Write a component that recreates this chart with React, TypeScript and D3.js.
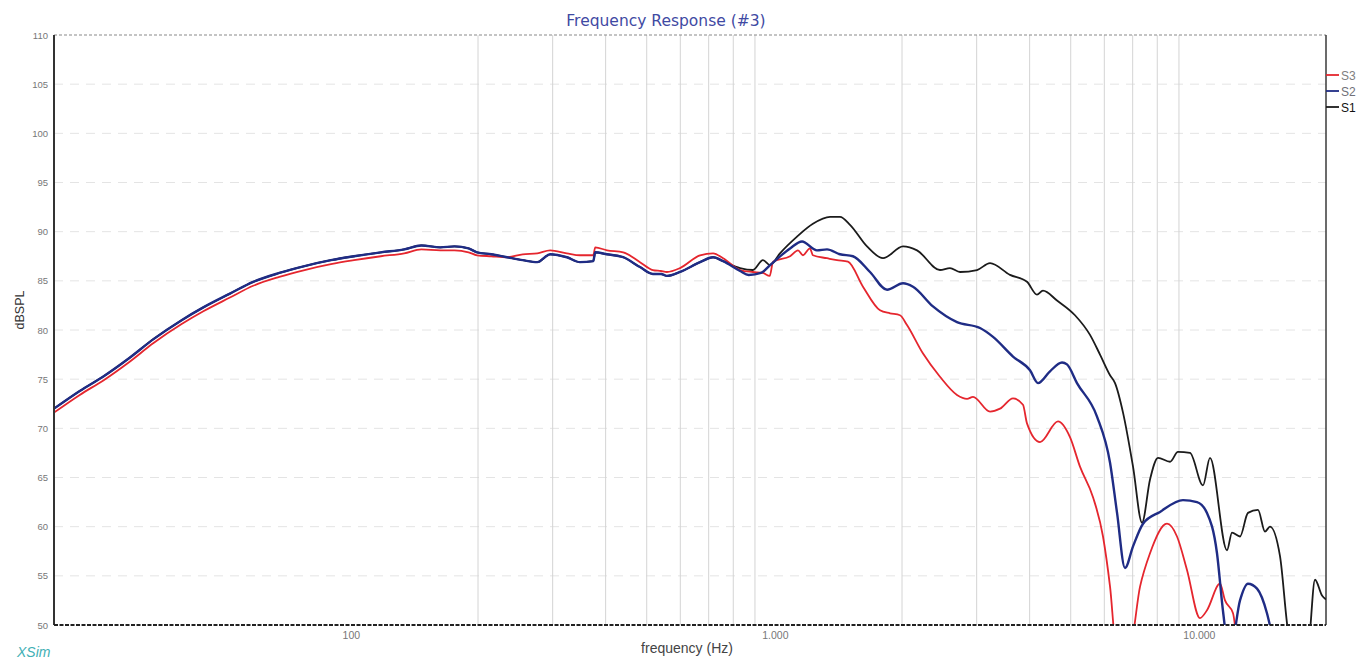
import React, { useEffect, useRef } from 'react';
import * as d3 from 'd3';

// Frequency response samples [Hz, dB]
const S1: [number, number][] = [
  [20, 72.0], [23, 73.8], [26.2, 75.3], [30, 77.1], [34.4, 79.1], [40, 81.0], [45, 82.3],
  [52, 83.7], [59, 84.9], [68, 85.8], [78, 86.5], [90, 87.1], [102, 87.5], [118, 87.9],
  [134, 88.2], [147, 88.6], [163, 88.4], [176, 88.5], [190, 88.3], [199, 87.9], [215, 87.7],
  [234, 87.4], [255, 87.1], [276, 86.9], [296, 87.7], [324, 87.4], [348, 86.9], [374, 87.0],
  [378, 87.9], [403, 87.7], [440, 87.4], [482, 86.4], [517, 85.7], [540, 85.7], [558, 85.5],
  [599, 85.9], [668, 86.9], [717, 87.4], [757, 87.0], [830, 86.3], [890, 86.1], [940, 87.1],
  [977, 86.6], [1031, 87.8], [1131, 89.5], [1233, 90.8], [1353, 91.5], [1428, 91.5],
  [1508, 90.7], [1654, 88.5], [1804, 87.3], [2011, 88.5], [2170, 88.1], [2458, 86.1],
  [2595, 86.3], [2741, 85.9], [3006, 86.1], [3226, 86.8], [3596, 85.6], [3943, 84.9],
  [4163, 83.6], [4300, 84.0], [4641, 83.0], [5117, 81.5], [5552, 79.5], [5862, 77.5],
  [6190, 75.4], [6360, 74.6], [6642, 71.6], [7013, 66.1], [7364, 60.4], [7691, 64.8],
  [8033, 67.0], [8573, 66.6], [8952, 67.6], [9554, 67.5], [10254, 64.2], [10652, 67.0],
  [11683, 57.6], [12004, 59.4], [12538, 59.0], [13092, 61.4], [13824, 61.7], [14359, 59.5],
  [14754, 60.0], [15579, 57.0], [16181, 50.2], [16500, 47.5], [18100, 47.5], [18842, 54.6],
  [19572, 53.0], [20000, 52.6],
];

const S2: [number, number][] = [
  [20, 72.0], [23, 73.8], [26.2, 75.3], [30, 77.1], [34.4, 79.1], [40, 81.0], [45, 82.3],
  [52, 83.7], [59, 84.9], [68, 85.8], [78, 86.5], [90, 87.1], [102, 87.5], [118, 87.9],
  [134, 88.2], [147, 88.6], [163, 88.4], [176, 88.5], [190, 88.3], [199, 87.9], [215, 87.7],
  [234, 87.4], [255, 87.1], [276, 86.9], [296, 87.7], [324, 87.4], [348, 86.9], [374, 87.0],
  [378, 87.9], [403, 87.7], [440, 87.4], [482, 86.4], [517, 85.7], [540, 85.7], [558, 85.5],
  [599, 85.9], [668, 86.9], [717, 87.4], [757, 87.0], [830, 86.0], [870, 85.6], [930, 85.8],
  [977, 86.6], [1089, 88.3], [1162, 89.0], [1260, 88.1], [1331, 88.2], [1428, 87.7],
  [1532, 87.5], [1681, 85.9], [1844, 84.1], [2011, 84.75], [2123, 84.4], [2366, 82.4],
  [2696, 80.8], [3055, 80.2], [3279, 79.3], [3655, 77.3], [4008, 75.9], [4186, 74.6],
  [4468, 75.8], [4769, 76.7], [4900, 76.5], [5173, 74.6], [5767, 71.2], [6190, 66.5],
  [6430, 61.4], [6714, 55.8], [7013, 58.0], [7405, 60.3], [8120, 61.5], [9198, 62.7],
  [9926, 62.5], [10479, 61.4], [11065, 57.3], [11433, 51.4], [11750, 48.0], [11950, 48.0],
  [12538, 52.5], [13092, 54.2], [13751, 53.7], [14515, 51.2], [15000, 48.5],
];

const S3: [number, number][] = [
  [20, 71.6], [23, 73.4], [26.2, 74.9], [30, 76.7], [34.4, 78.7], [40, 80.6], [45, 81.9],
  [52, 83.3], [59, 84.5], [68, 85.4], [78, 86.1], [90, 86.7], [102, 87.1], [118, 87.5],
  [134, 87.8], [147, 88.2], [163, 88.1], [176, 88.1], [190, 87.9], [199, 87.6], [215, 87.5],
  [234, 87.4], [255, 87.7], [276, 87.8], [296, 88.1], [324, 87.8], [348, 87.6], [374, 87.6],
  [378, 88.4], [403, 88.1], [440, 87.9], [482, 86.9], [517, 86.1], [540, 86.0], [558, 85.9],
  [599, 86.3], [668, 87.6], [717, 87.8], [757, 87.3], [830, 86.1], [890, 85.9], [940, 85.8],
  [975, 85.5], [993, 86.95], [1089, 87.5], [1137, 88.1], [1168, 87.6], [1213, 88.3],
  [1233, 87.6], [1331, 87.3], [1405, 87.1], [1491, 86.95], [1618, 84.4], [1775, 82.0],
  [1874, 81.7], [1978, 81.5], [2055, 80.5], [2242, 77.6], [2458, 75.25], [2696, 73.4],
  [2847, 73.0], [2941, 73.2], [3226, 71.7], [3406, 72.0], [3655, 73.05], [3858, 72.4],
  [3943, 70.5], [4232, 68.6], [4666, 70.7], [4980, 69.1], [5258, 66.1], [5643, 63.0],
  [5958, 59.0], [6190, 53.9], [6400, 48.0], [6900, 48.0], [7285, 53.9], [7691, 57.3],
  [8434, 60.3], [8905, 59.0], [9401, 55.6], [10088, 50.7], [10479, 51.5], [11247, 54.2],
  [11557, 52.5], [12071, 51.2], [12335, 48.0],
];

const series = [
  { name: 'S1', data: S1, color: '#1b1b1b', width: 1.8, label: '#111' },
  { name: 'S3', data: S3, color: '#e5262e', width: 1.8, label: '#808080' },
  { name: 'S2', data: S2, color: '#1f2c85', width: 2.4, label: '#707078' },
];
const legendOrder = ['S3', 'S2', 'S1'];

const yTicks = [50, 55, 60, 65, 70, 75, 80, 85, 90, 95, 100, 105, 110];
const xLabels: [number, string][] = [[100, '100'], [1000, '1.000'], [10000, '10.000']];
const xGrid = [200, 300, 400, 500, 600, 700, 800, 900, 2000, 3000, 4000, 5000, 6000, 7000, 8000, 9000];

const W = 1360;
const H = 659;

const FrequencyResponse = () => {
  const svgRef = useRef<SVGSVGElement | null>(null);

  useEffect(() => {
    if (!svgRef.current) return;
    const root = d3.select(svgRef.current);
    root.selectAll('*').remove();

    const margin = { top: 35, right: 34, bottom: 34, left: 54 };
    const width = W - margin.left - margin.right;
    const height = H - margin.top - margin.bottom;

    const x = d3.scaleLog().domain([20, 20000]).range([0, width]);
    const y = d3.scaleLinear().domain([50, 110]).range([height, 0]);

    const font = 'Liberation Sans, Arial, sans-serif';

    // Title
    root.append('text')
      .attr('x', 666).attr('y', 26)
      .attr('text-anchor', 'middle')
      .style('font-family', 'DejaVu Sans, Verdana, sans-serif').style('font-size', '15.5px')
      .style('fill', '#3f4aa3')
      .text('Frequency Response (#3)');

    const g = root.append('g').attr('transform', `translate(${margin.left},${margin.top})`);

    root.append('defs').append('clipPath').attr('id', 'plotClip')
      .append('rect').attr('width', width).attr('height', height);

    // Horizontal grid
    g.append('g').selectAll('line')
      .data(yTicks.filter(t => t > 50 && t < 110))
      .join('line')
      .attr('x1', 0).attr('x2', width)
      .attr('y1', d => y(d)).attr('y2', d => y(d))
      .attr('stroke', '#e4e4e4').attr('stroke-dasharray', '9,7');

    // Vertical grid
    g.append('g').selectAll('line')
      .data(xGrid)
      .join('line')
      .attr('x1', d => x(d)).attr('x2', d => x(d))
      .attr('y1', 0).attr('y2', height)
      .attr('stroke', '#d4d4d4').attr('stroke-width', 1);

    // Frame
    g.append('line').attr('x1', 0).attr('x2', width).attr('y1', 0).attr('y2', 0)
      .attr('stroke', '#8a8a8a').attr('stroke-width', 1.2).attr('stroke-dasharray', '3,2');
    g.append('line').attr('x1', width).attr('x2', width).attr('y1', 0).attr('y2', height)
      .attr('stroke', '#3a3a3a').attr('stroke-width', 1.5);

    // Curves
    const line = d3.line<[number, number]>()
      .x(d => x(d[0]))
      .y(d => y(d[1]))
      .curve(d3.curveMonotoneX);

    const curves = g.append('g').attr('clip-path', 'url(#plotClip)');
    series.forEach(s => {
      curves.append('path')
        .datum(s.data)
        .attr('fill', 'none')
        .attr('stroke', s.color)
        .attr('stroke-width', s.width)
        .attr('stroke-linejoin', 'round')
        .attr('d', line);
    });

    g.append('line').attr('x1', 0).attr('x2', 0).attr('y1', 0).attr('y2', height)
      .attr('stroke', '#333').attr('stroke-width', 2);
    g.append('line').attr('x1', 0).attr('x2', width).attr('y1', height).attr('y2', height)
      .attr('stroke', '#222').attr('stroke-width', 2).attr('stroke-dasharray', '4,1.5');

    // Y tick labels
    g.append('g').selectAll('text')
      .data(yTicks)
      .join('text')
      .attr('x', -6).attr('y', d => y(d) + 3.5)
      .attr('text-anchor', 'end')
      .style('font-family', font).style('font-size', '9.5px')
      .style('fill', '#777')
      .text(d => d);

    // X tick labels
    g.append('g').selectAll('text')
      .data(xLabels)
      .join('text')
      .attr('x', d => x(d[0]) + 1).attr('y', height + 14)
      .attr('text-anchor', 'middle')
      .style('font-family', font).style('font-size', '10.5px')
      .style('fill', '#777')
      .text(d => d[1]);

    // Axis titles
    root.append('text')
      .attr('transform', 'translate(24,310) rotate(-90)')
      .attr('text-anchor', 'middle')
      .style('font-family', font).style('font-size', '12.5px')
      .style('fill', '#333')
      .text('dBSPL');

    root.append('text')
      .attr('x', 687).attr('y', 653)
      .attr('text-anchor', 'middle')
      .style('font-family', font).style('font-size', '14px')
      .style('fill', '#444')
      .text('frequency (Hz)');

    root.append('text')
      .attr('x', 17).attr('y', 657)
      .style('font-family', font).style('font-size', '14px')
      .style('font-style', 'italic')
      .style('fill', '#3fb0b5')
      .text('XSim');

    // Legend
    const legend = root.append('g').attr('transform', `translate(${margin.left + width},75)`);
    legendOrder.forEach((name, i) => {
      const s = series.find(d => d.name === name)!;
      legend.append('line')
        .attr('x1', 0).attr('x2', 13)
        .attr('y1', i * 16).attr('y2', i * 16)
        .attr('stroke', s.color).attr('stroke-width', 1.8);
      legend.append('text')
        .attr('x', 15).attr('y', i * 16 + 4.5)
        .style('font-family', font).style('font-size', '12px')
        .style('fill', s.label)
        .text(name);
    });
  }, []);

  return (
    <div style={{ position: 'absolute', left: 0, top: 0, width: W, height: H, background: '#fff' }}>
      <svg ref={svgRef} width={W} height={H} />
    </div>
  );
};

export default function App() {
  return <FrequencyResponse />;
}
